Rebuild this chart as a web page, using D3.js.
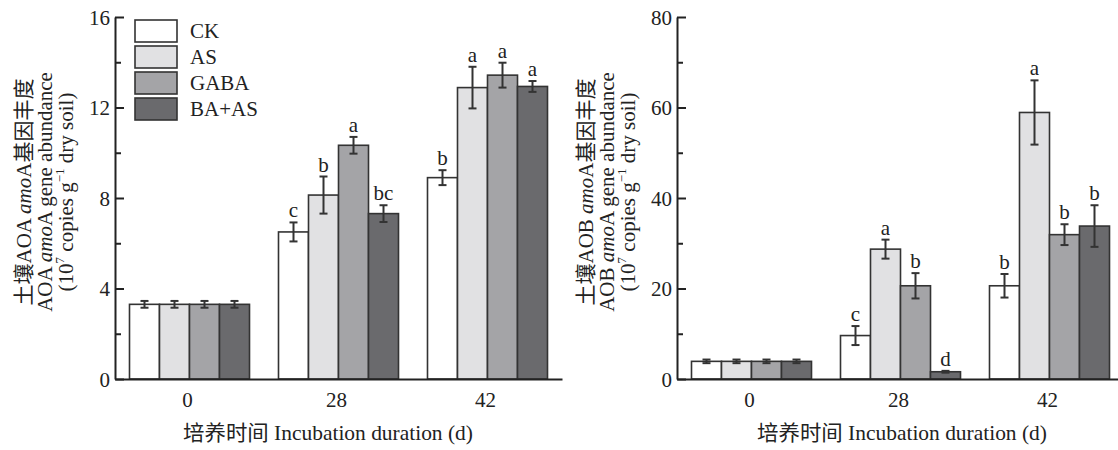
<!DOCTYPE html>
<html>
<head>
<meta charset="utf-8">
<script src="https://cdn.jsdelivr.net/npm/d3@7/dist/d3.min.js"></script>
<style>
  html, body { margin: 0; padding: 0; background: #fff; }
  svg { display: block; }
  text { font-family: "Liberation Serif", "Noto Sans CJK SC", serif; fill: #222; }
</style>
</head>
<body>
<svg id="chart" width="1118" height="450"></svg>
<script>
// ---------- data ----------
const groups = ["0", "28", "42"];
const series = ["CK", "AS", "GABA", "BA+AS"];
const seriesColors = ["#ffffff", "#e1e1e3", "#a4a4a7", "#6a6a6d"];

// AOA amoA (rows = incubation time, columns = treatment)
const aoaMean = [[3.3, 3.3, 3.3, 3.3], [6.5, 8.13, 10.33, 7.31], [8.9, 12.88, 13.43, 12.93]];
const aoaErr = [[0.15, 0.15, 0.15, 0.15], [0.42, 0.82, 0.37, 0.37], [0.33, 0.92, 0.55, 0.24]];
const aoaLetters = [["", "", "", ""], ["c", "b", "a", "bc"], ["b", "a", "a", "a"]];
const aoaTicks = [0, 4, 8, 12, 16];
const aoaMinor = [2, 6, 10, 14];

// AOB amoA
const aobMean = [[3.9, 3.9, 3.9, 3.9], [9.6, 28.7, 20.6, 1.6], [20.6, 58.9, 31.9, 33.8]];
const aobErr = [[0.4, 0.4, 0.4, 0.4], [2.1, 2.1, 2.8, 0.2], [2.6, 7.1, 2.3, 4.6]];
const aobLetters = [["", "", "", ""], ["c", "a", "b", "d"], ["b", "a", "b", "b"]];
const aobTicks = [0, 20, 40, 60, 80];
const aobMinor = [10, 30, 50, 70];

const svg = d3.select("#chart");
const FS = 21;

// fit a text element to a target length by scaling along its own direction
function fitLength(sel, target) {
  const len = sel.node().getComputedTextLength();
  if (len > 0) sel.attr("transform", `scale(${target / len},1)`);
}

function drawPanel(o) {
  const g = svg.append("g");
  const y = d3.scaleLinear().domain([0, o.ticks[o.ticks.length - 1]]).range([379, 17]);
  const x0 = d3.scaleBand().domain(groups).range([o.left, o.left + 447])
    .paddingInner(0.1946).paddingOuter(0.0973);
  const x1 = d3.scaleBand().domain(series).range([0, x0.bandwidth()]);

  // bars
  groups.forEach((grp, gi) => {
    const gg = g.append("g").attr("transform", `translate(${x0(grp)},0)`);
    series.forEach((s, si) => {
      const v = o.mean[gi][si], e = o.err[gi][si];
      const cx = x1(s) + x1.bandwidth() / 2;
      gg.append("rect")
        .attr("x", x1(s)).attr("width", x1.bandwidth())
        .attr("y", y(v)).attr("height", y(0) - y(v))
        .attr("fill", seriesColors[si])
        .attr("stroke", "#333").attr("stroke-width", 1.6);
      const eb = gg.append("g").attr("stroke", "#333").attr("stroke-width", 2);
      eb.append("line").attr("x1", cx).attr("x2", cx).attr("y1", y(v + e)).attr("y2", y(v - e));
      eb.append("line").attr("x1", cx - 4).attr("x2", cx + 4).attr("y1", y(v + e)).attr("y2", y(v + e));
      eb.append("line").attr("x1", cx - 4).attr("x2", cx + 4).attr("y1", y(v - e)).attr("y2", y(v - e));
      const lt = o.letters[gi][si];
      if (lt) {
        gg.append("text").attr("x", cx).attr("y", y(v + e) - 5)
          .attr("text-anchor", "middle").attr("font-size", FS).text(lt);
      }
    });
  });

  // y axis
  const yAxis = d3.axisLeft(y).tickValues(o.ticks).tickSize(-9).tickPadding(5).tickSizeOuter(0);
  const ya = g.append("g").attr("transform", `translate(${o.left},0)`).call(yAxis);
  const yMinor = d3.axisLeft(y).tickValues(o.minor).tickSize(-6).tickFormat("").tickSizeOuter(0);
  const ym = g.append("g").attr("transform", `translate(${o.left},0)`).call(yMinor);
  [ya, ym].forEach(a => {
    a.select(".domain").attr("stroke", "#222").attr("stroke-width", 2);
    a.selectAll(".tick line").attr("stroke", "#222").attr("stroke-width", 2);
  });
  ym.select(".domain").remove();
  ya.selectAll(".tick text").attr("font-size", FS).attr("fill", "#222")
    .attr("font-family", "Liberation Serif").attr("dy", "0.34em");

  // x axis
  const xAxis = d3.axisBottom(x0).tickSize(0).tickPadding(13).tickSizeOuter(0);
  const xa = g.append("g").attr("transform", "translate(0,379)").call(xAxis);
  xa.select(".domain").attr("stroke", "#222").attr("stroke-width", 2);
  xa.selectAll(".tick text").attr("font-size", FS).attr("fill", "#222")
    .attr("font-family", "Liberation Serif").attr("dx", -2);

  // x title
  const xtG = g.append("g").attr("transform", `translate(${o.xTitleX - 145},440)`);
  const xt = xtG.append("text").attr("x", 0).attr("y", 0).attr("font-size", FS)
    .text("培养时间 Incubation duration (d)");
  fitLength(xt, 290);

  // y title (3 lines, rotated, centred)
  const mk = (baseX, cy, build) => {
    const gl = g.append("g").attr("transform", `translate(${o.left + baseX},${cy}) rotate(-90)`);
    const t = gl.append("text").attr("font-size", 21).attr("text-anchor", "middle");
    build(t);
  };
  mk(-84, 192, t => {
    t.append("tspan").text(`土壤${o.name} `);
    t.append("tspan").attr("font-style", "italic").text("amo");
    t.append("tspan").text("A基因丰度");
  });
  mk(-63, 192, t => {
    t.append("tspan").text(`${o.name} `);
    t.append("tspan").attr("font-style", "italic").text("amo");
    t.append("tspan").text("A gene abundance");
  });
  mk(-42, 192, t => {
    t.append("tspan").text("(10");
    t.append("tspan").attr("font-size", 13).attr("dy", -9).text("7");
    t.append("tspan").attr("dy", 9).text(" copies g");
    t.append("tspan").attr("font-size", 13).attr("dy", -9).text("−1");
    t.append("tspan").attr("dy", 9).text(" dry soil)");
  });

  return { x0, y };
}

drawPanel({ left: 115, name: "AOA", mean: aoaMean, err: aoaErr, letters: aoaLetters,
  ticks: aoaTicks, minor: aoaMinor, xTitleX: 328 });
drawPanel({ left: 677, name: "AOB", mean: aobMean, err: aobErr, letters: aobLetters,
  ticks: aobTicks, minor: aobMinor, xTitleX: 902 });

// legend (left panel)
const lg = svg.append("g").attr("transform", "translate(135,20)");
series.forEach((s, i) => {
  const row = lg.append("g").attr("transform", `translate(0,${i * 26})`);
  row.append("rect").attr("width", 42).attr("height", 22)
    .attr("fill", seriesColors[i]).attr("stroke", "#333").attr("stroke-width", 1.6);
  row.append("text").attr("x", 55).attr("y", 18).attr("font-size", FS).text(s);
});
</script>
</body>
</html>
